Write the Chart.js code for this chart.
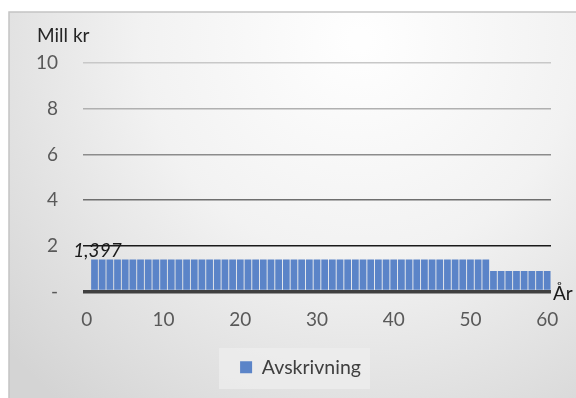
<!DOCTYPE html>
<html>
<head>
<meta charset="utf-8">
<script src="https://cdn.jsdelivr.net/npm/chart.js@4.4.1/dist/chart.umd.min.js"></script>
<style>
html,body{margin:0;padding:0;background:#fff;}
#wrap{position:relative;width:576px;height:398px;}
</style>
</head>
<body>
<div id="wrap"><canvas id="c" width="576" height="398"></canvas></div>
<script>
const years = [1,2,3,4,5,6,7,8,9,10,11,12,13,14,15,16,17,18,19,20,21,22,23,24,25,26,27,28,29,30,31,32,33,34,35,36,37,38,39,40,41,42,43,44,45,46,47,48,49,50,51,52,53,54,55,56,57,58,59,60];
const avskrivning = [1.397,1.397,1.397,1.397,1.397,1.397,1.397,1.397,1.397,1.397,1.397,1.397,1.397,1.397,1.397,1.397,1.397,1.397,1.397,1.397,1.397,1.397,1.397,1.397,1.397,1.397,1.397,1.397,1.397,1.397,1.397,1.397,1.397,1.397,1.397,1.397,1.397,1.397,1.397,1.397,1.397,1.397,1.397,1.397,1.397,1.397,1.397,1.397,1.397,1.397,1.397,1.397,0.9,0.9,0.9,0.9,0.9,0.9,0.9,0.9];
const xTicks = [0,10,20,30,40,50,60];
const yTicks = [0,2,4,6,8,10];
const seriesName = 'Avskrivning';
const yTitle = 'Mill kr';
const xTitle = 'År';
const firstLabel = '1,397';

const FONT = 'Lato, "Open Sans", sans-serif';
const FS = 19;
const gridColors = {0:'#404040',2:'#1a1a1a',4:'#6e6e6e',6:'#8c8c8c',8:'#b0b0b0',10:'#c8c8c8'};

const bgPlugin = {
  id:'bg',
  afterLayout(chart){
    const lg = chart.legend;
    if (lg){ lg.left += 25; lg.right += 25; }
  },
  beforeDraw(chart){
    const ctx = chart.ctx;
    ctx.save();
    ctx.fillStyle = '#ffffff';
    ctx.fillRect(0,0,576,398);
    const g = ctx.createRadialGradient(360,40,10,360,40,470);
    g.addColorStop(0,'#fefefe');
    g.addColorStop(0.45,'#f2f2f2');
    g.addColorStop(1,'#d4d4d4');
    ctx.fillStyle = g;
    ctx.fillRect(9,12,567,386);
    ctx.strokeStyle = '#c4c4c4';
    ctx.lineWidth = 1.5;
    ctx.strokeRect(9,12,580,400);
    const lg = chart.legend;
    if (lg && lg.legendHitBoxes && lg.legendHitBoxes.length){
      const hb = lg.legendHitBoxes[0];
      ctx.fillStyle = 'rgba(238,238,238,0.75)';
      ctx.fillRect(hb.left-21, 348, hb.width+30, 41);
    }
    ctx.restore();
  },
  afterDraw(chart){
    const ctx = chart.ctx;
    ctx.save();
    ctx.fillStyle = '#262626';
    ctx.font = FS + 'px ' + FONT;
    ctx.textBaseline = 'alphabetic';
    ctx.textAlign = 'left';
    ctx.fillText(yTitle, 37, 42);
    ctx.fillStyle = '#1a1a1a';
    ctx.fillText(xTitle, 553, 300);
    const bar = chart.getDatasetMeta(0).data[0];
    ctx.font = 'italic ' + FS + 'px ' + FONT;
    ctx.textAlign = 'center';
    ctx.fillText(firstLabel, bar.x + 3, bar.y - 3);
    ctx.restore();
  }
};

new Chart(document.getElementById('c'), {
  type:'bar',
  data:{
    datasets:[{
      label: seriesName,
      data: years.map((x,i)=>({x:x, y:avskrivning[i]})),
      backgroundColor:'#5b84c8',
      borderWidth:0,
      barPercentage:0.88,
      categoryPercentage:1.0
    }]
  },
  plugins:[bgPlugin],
  options:{
    responsive:false,
    animation:false,
    devicePixelRatio:1,
    layout:{padding:{left:0,right:25,top:63,bottom:11}},
    plugins:{
      legend:{
        position:'bottom',
        labels:{
          font:{size:19.5, family:FONT},
          color:'#404040',
          boxWidth:12, boxHeight:12,
          padding:14
        }
      },
      tooltip:{enabled:false}
    },
    scales:{
      x:{
        type:'linear',
        offset:false,
        min:-0.5, max:60.5,
        afterBuildTicks(scale){ scale.ticks = xTicks.map(v=>({value:v})); },
        grid:{display:false, drawTicks:false, offset:false},
        border:{display:false},
        ticks:{font:{size:FS, family:FONT}, color:'#595959', padding:17, maxRotation:0, autoSkip:false},
        afterFit(scale){ scale.height = 52; }
      },
      y:{
        min:0, max:10,
        afterBuildTicks(scale){ scale.ticks = yTicks.map(v=>({value:v})); },
        afterFit(scale){ scale.width = 83; },
        grid:{
          drawTicks:false,
          color:(c)=>gridColors[c.tick.value] || '#999',
          lineWidth:(c)=> c.tick.value===0 ? 3.5 : 1.6
        },
        border:{display:false},
        ticks:{
          font:{size:FS, family:FONT}, color:'#595959', padding:25,
          callback:(v)=> v===0 ? '-' : String(v)
        }
      }
    }
  }
});
</script>
</body>
</html>
